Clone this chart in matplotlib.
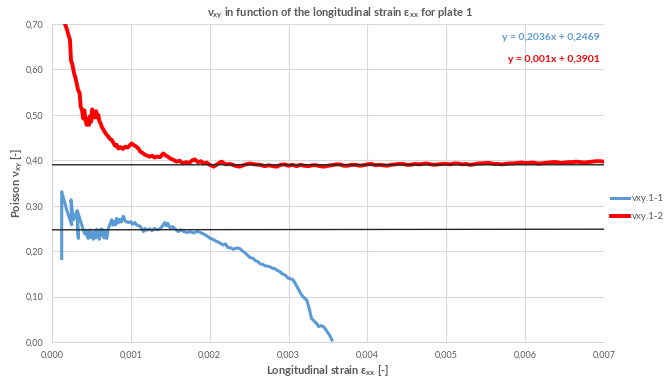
import matplotlib
matplotlib.use("Agg")
import matplotlib.pyplot as plt
from matplotlib.ticker import FixedLocator

plt.rcParams['font.family'] = ['Lato', 'DejaVu Sans']
plt.rcParams['mathtext.fontset'] = 'custom'
plt.rcParams['mathtext.rm'] = 'Lato'
plt.rcParams['mathtext.it'] = 'Lato:italic'
plt.rcParams['mathtext.bf'] = 'Lato:bold'

# ---- data ----
blue_x = [0.000123, 0.000123, 0.000186, 0.000249, 0.000241, 0.000270, 0.000313, 0.000334, 0.000321,
          0.000397, 0.000415, 0.000430, 0.000445, 0.000460, 0.000470, 0.000482, 0.000495, 0.000510,
          0.000525, 0.000545, 0.000556, 0.000566, 0.000578, 0.000590, 0.000600, 0.000609, 0.000620,
          0.000630, 0.000645, 0.000660, 0.000675, 0.000694, 0.000714, 0.000735, 0.000757, 0.000775,
          0.000790, 0.000805, 0.000820, 0.000840, 0.000860, 0.000880, 0.000905, 0.000930, 0.000968,
          0.00100, 0.00102, 0.00105, 0.00107, 0.00110, 0.00112, 0.00116, 0.00118, 0.00120, 0.00124,
          0.00127, 0.00130, 0.00133, 0.00137, 0.00140, 0.00143, 0.00145, 0.00147, 0.00150, 0.00153,
          0.00156, 0.00160, 0.00163, 0.00166, 0.00171, 0.00175, 0.00180, 0.00184, 0.00188, 0.00192,
          0.00196, 0.00200, 0.00204, 0.00208, 0.00212, 0.00217, 0.00220, 0.00223, 0.00227, 0.00230,
          0.00234, 0.00238, 0.00241, 0.00245, 0.00251, 0.00255, 0.00258, 0.00261, 0.00264, 0.00267,
          0.00270, 0.00273, 0.00276, 0.00280, 0.00283, 0.00286, 0.00289, 0.00292, 0.00295, 0.00300,
          0.00303, 0.00306, 0.00310, 0.00314, 0.00318, 0.00323, 0.00326, 0.00329, 0.00333, 0.00336,
          0.00338, 0.00341, 0.00344, 0.00347, 0.00349, 0.00352, 0.00355]
blue_y = [0.184, 0.331, 0.291, 0.258, 0.313, 0.269, 0.287, 0.228, 0.289,
          0.247, 0.238, 0.246, 0.234, 0.228, 0.245, 0.247, 0.230, 0.242,
          0.226, 0.245, 0.229, 0.248, 0.236, 0.244, 0.226, 0.238, 0.249,
          0.235, 0.247, 0.229, 0.246, 0.228, 0.250, 0.258, 0.269, 0.257,
          0.266, 0.258, 0.272, 0.262, 0.270, 0.264, 0.277, 0.266, 0.263,
          0.265, 0.259, 0.263, 0.258, 0.256, 0.254, 0.243, 0.250, 0.246, 0.249,
          0.245, 0.250, 0.247, 0.249, 0.255, 0.263, 0.256, 0.261, 0.250, 0.254,
          0.249, 0.243, 0.247, 0.244, 0.241, 0.243, 0.240, 0.244, 0.241, 0.238,
          0.234, 0.229, 0.226, 0.222, 0.219, 0.2135, 0.216, 0.208, 0.207, 0.204,
          0.207, 0.206, 0.201, 0.196, 0.186, 0.184, 0.179, 0.177, 0.172, 0.171,
          0.168, 0.167, 0.166, 0.162, 0.161, 0.157, 0.155, 0.150, 0.148, 0.140,
          0.139, 0.1365, 0.124, 0.111, 0.100, 0.0925, 0.075, 0.052, 0.045, 0.040,
          0.034, 0.036, 0.034, 0.028, 0.022, 0.015, 0.0044]

red_x = [0.000150, 0.000165, 0.000190, 0.000210, 0.000228, 0.000241, 0.000260, 0.000279, 0.000300,
         0.000330, 0.000350, 0.000364, 0.000380, 0.000397, 0.000410, 0.000425, 0.000440, 0.000455,
         0.000470, 0.000482, 0.000495, 0.000510, 0.000524, 0.000540, 0.000560, 0.000575, 0.000587,
         0.000600, 0.000615, 0.000630, 0.000650, 0.000670, 0.000694, 0.000715, 0.000735, 0.000757,
         0.000780, 0.000800, 0.000820, 0.000841, 0.000870, 0.000900, 0.000926, 0.000960, 0.00099,
         0.00101, 0.00104, 0.00107, 0.00110, 0.00112, 0.00115, 0.00118, 0.00121, 0.00124, 0.00127,
         0.00130, 0.00133, 0.00137, 0.00141, 0.00144, 0.00147, 0.00150, 0.00154, 0.00158, 0.00162,
         0.00166, 0.00170, 0.00174, 0.00178, 0.00181, 0.00185, 0.00189, 0.00192, 0.00196, 0.00200,
         0.00205, 0.00210, 0.00215, 0.00220, 0.00226, 0.00232, 0.00238, 0.00244, 0.00251, 0.00257,
         0.00264, 0.00270, 0.00275, 0.00280, 0.00285, 0.00290, 0.00295, 0.00300, 0.00305, 0.00310,
         0.00315, 0.00320, 0.00325, 0.00330, 0.00335, 0.00340, 0.00345, 0.00350, 0.00355, 0.00360,
         0.00365, 0.00370, 0.00375, 0.00380, 0.00385, 0.00390, 0.00395, 0.00400, 0.00405, 0.00410,
         0.00415, 0.00420, 0.00425, 0.00430, 0.00435, 0.00440, 0.00445, 0.00450, 0.00455, 0.00460,
         0.00465, 0.00470, 0.00475, 0.00480, 0.00485, 0.00490, 0.00495, 0.00500, 0.00505, 0.00510,
         0.00515, 0.00520, 0.00525, 0.00530, 0.00535, 0.00540, 0.00545, 0.00550, 0.00555, 0.00560,
         0.00565, 0.00570, 0.00575, 0.00580, 0.00585, 0.00590, 0.00595, 0.00600, 0.00605, 0.00610,
         0.00615, 0.00620, 0.00625, 0.00630, 0.00635, 0.00640, 0.00645, 0.00650, 0.00655, 0.00660,
         0.00665, 0.00670, 0.00675, 0.00680, 0.00685, 0.00690, 0.00695, 0.00700]
red_y = [0.760, 0.700, 0.688, 0.675, 0.665, 0.620, 0.610, 0.592, 0.580,
         0.555, 0.548, 0.518, 0.511, 0.492, 0.510, 0.488, 0.478, 0.492,
         0.478, 0.497, 0.485, 0.512, 0.507, 0.494, 0.508, 0.494, 0.500,
         0.486, 0.482, 0.474, 0.468, 0.462, 0.456, 0.452, 0.447, 0.445,
         0.438, 0.432, 0.434, 0.426, 0.429, 0.425, 0.430, 0.428, 0.434,
         0.437, 0.433, 0.430, 0.425, 0.419, 0.416, 0.412, 0.410, 0.408, 0.410,
         0.406, 0.408, 0.407, 0.415, 0.411, 0.408, 0.404, 0.401, 0.397, 0.399,
         0.393, 0.396, 0.394, 0.400, 0.402, 0.396, 0.398, 0.393, 0.395, 0.390,
         0.386, 0.392, 0.397, 0.391, 0.392, 0.388, 0.386, 0.390, 0.393, 0.391,
         0.390, 0.387, 0.389, 0.387, 0.386, 0.390, 0.391, 0.388, 0.390, 0.387,
         0.390, 0.388, 0.387, 0.389, 0.389, 0.387, 0.386, 0.388, 0.389, 0.391,
         0.391, 0.388, 0.388, 0.390, 0.390, 0.388, 0.389, 0.391, 0.392, 0.389,
         0.390, 0.389, 0.388, 0.390, 0.391, 0.392, 0.392, 0.390, 0.390, 0.392,
         0.391, 0.392, 0.393, 0.391, 0.390, 0.391, 0.392, 0.392, 0.391, 0.393,
         0.393, 0.391, 0.392, 0.390, 0.391, 0.393, 0.393, 0.394, 0.394, 0.392,
         0.392, 0.391, 0.392, 0.393, 0.393, 0.394, 0.395, 0.394, 0.394, 0.395,
         0.393, 0.393, 0.394, 0.395, 0.396, 0.396, 0.394, 0.395, 0.396, 0.396,
         0.397, 0.396, 0.395, 0.396, 0.397, 0.398, 0.398, 0.397]

trend_blue = (0.2036, 0.2469)   # slope, intercept
trend_red = (0.001, 0.3901)
x_ticks = [0.000, 0.001, 0.002, 0.003, 0.004, 0.005, 0.006, 0.007]
y_ticks = [0.00, 0.10, 0.20, 0.30, 0.40, 0.50, 0.60, 0.70]
series_names = ['vxy.1-1', 'vxy.1-2']

BLUE = '#5B9BD5'
RED = '#FF0000'
GRAY = '#595959'

fig = plt.figure(figsize=(6.69, 3.80), dpi=100)
ax = fig.add_axes([52/669, 1-342/380, (604-52)/669, (342-24)/380])

xs = [x_ticks[0], x_ticks[-1]]
ax.plot(xs, [trend_blue[1] + trend_blue[0]*x for x in xs], color='#262626', lw=1.0, zorder=3)
ax.plot(xs, [trend_red[1] + trend_red[0]*x for x in xs], color='#262626', lw=1.0, zorder=3)
ax.plot(blue_x, blue_y, color=BLUE, lw=2.2, label=series_names[0], zorder=2, solid_joinstyle='round')
ax.plot(red_x, red_y, color=RED, lw=2.8, label=series_names[1], zorder=2, solid_joinstyle='round')

ax.set_xlim(x_ticks[0], x_ticks[-1])
ax.set_ylim(y_ticks[0], y_ticks[-1])
ax.xaxis.set_major_locator(FixedLocator(x_ticks))
ax.yaxis.set_major_locator(FixedLocator(y_ticks))
ax.set_xticklabels([f"{v:.3f}".replace('.', ',') for v in x_ticks])
ax.set_yticklabels([f"{v:.2f}".replace('.', ',') for v in y_ticks])
ax.tick_params(length=0, labelsize=6.5, labelcolor=GRAY, pad=6)
ax.grid(True, color='#D9D9D9', lw=0.8)
ax.set_axisbelow(True)
for s in ['top', 'right']:
    ax.spines[s].set_visible(False)
for s in ['left', 'bottom']:
    ax.spines[s].set_color('#D9D9D9')
    ax.spines[s].set_linewidth(0.8)

ax.set_xlabel(r"Longitudinal strain $\mathbf{\epsilon_{xx}}$ [-]", fontsize=8, fontweight='bold',
              color=GRAY)
ax.set_ylabel(r"Poisson $\mathbf{\nu_{xy}}$ [-]", fontsize=8, fontweight='bold', color=GRAY)
ax.xaxis.set_label_coords((328-52)/552, (342-371)/318)
ax.yaxis.set_label_coords((17-52)/552, 0.5)
ax.xaxis.label.set_va('center')
ax.yaxis.label.set_va('center')
fig.text(340/669, 1-13/380, r"$\mathbf{\nu_{xy}}$ in function of the longitudinal strain $\mathbf{\epsilon_{xx}}$ for plate 1",
         ha='center', va='center', fontsize=8, fontweight='bold', color=GRAY)

fig.text(600/669, 1-37/380, "y = 0,2036x + 0,2469", ha='right', va='center', fontsize=7.5,
         fontweight='bold', color=BLUE)
fig.text(600/669, 1-59/380, "y = 0,001x + 0,3901", ha='right', va='center', fontsize=7.5,
         fontweight='bold', color=RED)

fig.legend(loc='upper left', bbox_to_anchor=(611/669, 1-194/380), frameon=False, fontsize=7,
           handlelength=1.9, handletextpad=0.25, labelspacing=0.95, labelcolor=GRAY, borderaxespad=0,
           borderpad=0)

fig.savefig('out.png', dpi=100)
